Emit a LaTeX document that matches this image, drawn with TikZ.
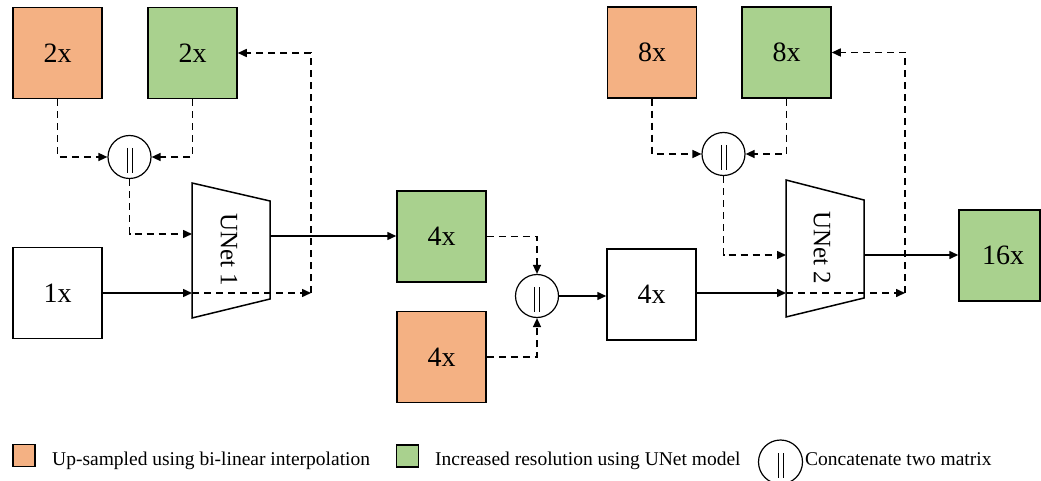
\documentclass[tikz,border=0pt]{standalone}
\usepackage{fontspec}
\setmainfont{Liberation Serif}
\usetikzlibrary{arrows.meta}
\definecolor{orng}{HTML}{F4B183}
\definecolor{grn}{HTML}{A9D18E}
\begin{document}
\begin{tikzpicture}[x=1pt,y=-1pt,
  box/.style={draw,line width=1.5pt,minimum width=89pt,minimum height=91pt,inner sep=0pt,font=\fontsize{28}{30}\selectfont},
  obox/.style={box,fill=orng},
  gbox/.style={box,fill=grn},
  wbox/.style={box,fill=white},
  cat/.style={draw,circle,line width=1.2pt,minimum size=43pt,inner sep=0pt,
    path picture={\draw[line width=1pt]
      ([xshift=-2.5pt,yshift=9pt]path picture bounding box.center) -- ++(0,-25pt)
      ([xshift=2.5pt,yshift=9pt]path picture bounding box.center) -- ++(0,-25pt);}},
  conn/.style={line width=1.5pt,-{Triangle[length=9pt,width=8pt]}},
  dconn/.style={conn,dash pattern=on 7pt off 5pt},
  unet/.style={draw,line width=1.5pt,fill=white},
  utext/.style={rotate=-90,font=\fontsize{25}{28}\selectfont,inner sep=0pt},
  legtext/.style={anchor=base west,font=\fontsize{19.5}{22}\selectfont,inner sep=0pt},
  legbox/.style={draw,line width=1.3pt,minimum size=22pt,inner sep=0pt}]
\useasboundingbox (0,0) rectangle (1041,481);

% boxes
\node[obox] (o2) at (57.5,53) {2x};
\node[gbox] (g2) at (192.5,53) {2x};
\node[cat] (c1) at (129.5,157) {};
\node[wbox] (w1) at (57.5,293) {1x};
\node[gbox] (g4) at (441.5,236.5) {4x};
\node[obox] (o4) at (441.5,357) {4x};
\node[cat] (c2) at (537,296) {};
\node[wbox] (w4) at (651.5,294.5) {4x};
\node[obox] (o8) at (652,52.5) {8x};
\node[gbox] (g8) at (786.5,52.5) {8x};
\node[cat] (c3) at (723.5,154) {};
\node[gbox,minimum width=81pt] (g16) at (999.5,255.5) {\hspace*{7pt}16x};

% UNets
\draw[unet] (192,183) -- (270,201) -- (270,299) -- (192,318) -- cycle;
\node[utext] (u1t) at (229,250) {UNet 1};
\draw[unet] (786,180) -- (864,200) -- (864,298) -- (786,317) -- cycle;
\node[utext] (u2t) at (822,248) {UNet 2};

\coordinate (u1a) at (192,234);
\coordinate (u1b) at (192,293);
\coordinate (u1o) at (270,236);
\coordinate (k1) at (311,293);
\coordinate (u2a) at (786,255);
\coordinate (u2b) at (786,293);
\coordinate (u2o) at (864,255);
\coordinate (k2) at (905,293);

% stage 1
\draw[dconn] (o2.south) |- (c1.west);
\draw[dconn] (g2.south) |- (c1.east);
\draw[dconn] (c1.south) |- (u1a);
\draw[conn] (w1.east) -- (u1b);
\draw[dconn] (u1b) -- (k1);
\draw[dconn] (k1) |- (g2.east);
\draw[conn] (u1o) -- (g4.west |- u1o);

% middle
\draw[dconn] (g4.east) -| (c2.north);
\draw[dconn] (o4.east) -| (c2.south);
\draw[conn] (c2.east) -- (w4.west |- c2.east);

% stage 2
\draw[dconn] (o8.south) |- (c3.west);
\draw[dconn] (g8.south) |- (c3.east);
\draw[dconn] (c3.south) |- (u2a);
\draw[conn] (w4.east |- u2b) -- (u2b);
\draw[dconn] (u2b) -- (k2);
\draw[dconn] (k2) |- (g8.east);
\draw[conn] (u2o) -- (g16.west |- u2o);

% legend
\node[legbox,fill=orng] (lo) at (24,455.5) {};
\node[legtext] (lot) at (52,465) {Up-sampled using bi-linear interpolation};
\node[legbox,fill=grn] (lg) at (407.5,456) {};
\node[legtext] (lgt) at (435,465) {Increased resolution using UNet model};
\node[cat,minimum size=44pt] (lc) at (780.5,462) {};
\node[legtext] (lct) at (805,465) {Concatenate two matrix};
\end{tikzpicture}
\end{document}
